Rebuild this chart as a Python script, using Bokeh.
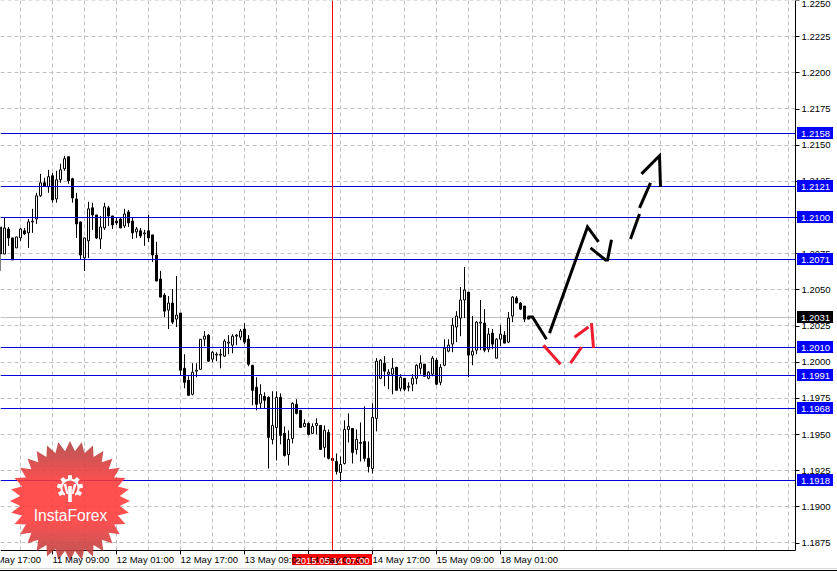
import math
from bokeh.embed import file_html
from bokeh.resources import INLINE
from bokeh.plotting import figure
from bokeh.core.properties import value
from bokeh.models import (ColumnDataSource, FixedTicker, Label, LabelSet, LinearAxis,
                          PolyAnnotation, PrintfTickFormatter, Range1d)

opens = [1.20935,1.20748,1.20921,1.20859,1.20790,1.20859,1.20908,1.20894,1.20970,1.20990,1.21150,1.21240,1.21212,1.21289,1.21129,1.21261,1.21337,1.21420,1.21268,1.21129,1.20970,1.20721,1.20839,1.21067,1.21018,1.20852,1.20928,1.21067,1.21011,1.20976,1.20990,1.20942,1.21039,1.20976,1.20901,1.20908,1.20887,1.20908,1.20880,1.20741,1.20575,1.20464,1.20360,1.20409,1.20298,1.20340,1.19958,1.19875,1.19778,1.19938,1.19951,1.20159,1.20187,1.20021,1.20049,1.20049,1.20042,1.20132,1.20118,1.20180,1.20173,1.20229,1.20159,1.19979,1.19827,1.19716,1.19764,1.19757,1.19466,1.19549,1.19757,1.19508,1.19362,1.19473,1.19709,1.19667,1.19556,1.19577,1.19508,1.19563,1.19563,1.19411,1.19515,1.19335,1.19314,1.19238,1.19300,1.19535,1.19542,1.19397,1.19439,1.19452,1.19335,1.19265,1.19612,1.19889,1.19993,1.19917,1.19917,1.19965,1.19820,1.19889,1.19827,1.19848,1.19889,1.19958,1.19986,1.19889,1.19917,1.20014,1.19861,1.19979,1.20076,1.20125,1.20243,1.20305,1.20430,1.20485,1.20049,1.20083,1.20270,1.20270,1.20090,1.20201,1.20028,1.20159,1.20187,1.20139,1.20319,1.20444,1.20409,1.20388,1.20312]
highs = [1.20935,1.20997,1.20935,1.20859,1.20866,1.20928,1.20928,1.20990,1.21060,1.21171,1.21302,1.21275,1.21330,1.21309,1.21323,1.21372,1.21427,1.21420,1.21275,1.21171,1.20970,1.20859,1.21109,1.21102,1.21018,1.21011,1.21102,1.21081,1.21011,1.20997,1.20997,1.21060,1.21053,1.20997,1.20935,1.20928,1.20915,1.21018,1.20880,1.20832,1.20631,1.20478,1.20457,1.20506,1.20596,1.20340,1.20055,1.19903,1.19993,1.19993,1.20159,1.20215,1.20194,1.20076,1.20069,1.20090,1.20159,1.20187,1.20194,1.20194,1.20229,1.20270,1.20187,1.19979,1.19896,1.19848,1.19792,1.19764,1.19799,1.19799,1.19785,1.19556,1.19529,1.19723,1.19744,1.19667,1.19605,1.19584,1.19577,1.19612,1.19563,1.19563,1.19535,1.19376,1.19369,1.19348,1.19598,1.19646,1.19542,1.19535,1.19584,1.19695,1.19452,1.19716,1.20028,1.20021,1.20042,1.19951,1.20028,1.19965,1.19917,1.19889,1.19861,1.19917,1.19986,1.20049,1.19986,1.19938,1.20042,1.20028,1.19986,1.20159,1.20159,1.20305,1.20353,1.20520,1.20658,1.20485,1.20319,1.20284,1.20430,1.20367,1.20236,1.20229,1.20166,1.20256,1.20215,1.20347,1.20457,1.20457,1.20416,1.20388,1.20312]
lows = [1.20631,1.20748,1.20804,1.20707,1.20790,1.20839,1.20880,1.20790,1.20894,1.20956,1.21143,1.21219,1.21171,1.21102,1.21102,1.21240,1.21323,1.21233,1.21102,1.20859,1.20707,1.20631,1.20721,1.20915,1.20852,1.20783,1.20915,1.20942,1.20921,1.20949,1.20928,1.20928,1.20935,1.20852,1.20859,1.20859,1.20804,1.20832,1.20693,1.20561,1.20450,1.20312,1.20229,1.20263,1.20243,1.19910,1.19820,1.19771,1.19771,1.19896,1.19951,1.20111,1.20007,1.20000,1.20007,1.19958,1.20035,1.20055,1.20062,1.20118,1.20152,1.20125,1.19972,1.19702,1.19667,1.19681,1.19681,1.19265,1.19432,1.19321,1.19432,1.19348,1.19286,1.19439,1.19639,1.19549,1.19549,1.19494,1.19508,1.19501,1.19397,1.19341,1.19328,1.19314,1.19224,1.19175,1.19293,1.19445,1.19300,1.19362,1.19314,1.19314,1.19238,1.19231,1.19522,1.19882,1.19834,1.19813,1.19778,1.19806,1.19799,1.19799,1.19799,1.19799,1.19848,1.19917,1.19903,1.19882,1.19903,1.19841,1.19841,1.19972,1.20069,1.20069,1.20139,1.20180,1.20305,1.19896,1.19979,1.20055,1.20083,1.20069,1.20069,1.20090,1.20028,1.20111,1.20132,1.20132,1.20277,1.20409,1.20360,1.20277,1.20298]
closes = [1.20748,1.20928,1.20859,1.20707,1.20866,1.20921,1.20887,1.20970,1.20976,1.21150,1.21240,1.21219,1.21282,1.21122,1.21261,1.21330,1.21407,1.21254,1.21136,1.20956,1.20741,1.20859,1.21060,1.21018,1.20859,1.20935,1.21074,1.21011,1.20949,1.20963,1.20928,1.21025,1.20963,1.20894,1.20921,1.20873,1.20894,1.20859,1.20741,1.20561,1.20450,1.20353,1.20409,1.20277,1.20326,1.19945,1.19861,1.19771,1.19931,1.19945,1.20159,1.20180,1.20007,1.20069,1.20055,1.20055,1.20146,1.20139,1.20180,1.20187,1.20215,1.20139,1.19986,1.19806,1.19709,1.19778,1.19737,1.19480,1.19563,1.19757,1.19494,1.19355,1.19466,1.19716,1.19646,1.19549,1.19577,1.19501,1.19556,1.19577,1.19397,1.19529,1.19335,1.19321,1.19245,1.19293,1.19535,1.19556,1.19376,1.19466,1.19445,1.19335,1.19279,1.19619,1.20007,1.20014,1.19938,1.19931,1.19958,1.19806,1.19896,1.19813,1.19834,1.19889,1.19979,1.19993,1.19903,1.19931,1.20028,1.19848,1.19965,1.20097,1.20118,1.20256,1.20319,1.20430,1.20499,1.20049,1.20076,1.20277,1.20277,1.20083,1.20194,1.20125,1.20159,1.20194,1.20132,1.20305,1.20450,1.20409,1.20367,1.20298,1.20298]

level_prices = [1.2158, 1.2121, 1.2100, 1.2071, 1.2010, 1.1991, 1.1968, 1.1918]
level_labels = ["1.2158", "1.2121", "1.2100", "1.2071", "1.2010", "1.1991", "1.1968", "1.1918"]
bid_price = 1.2031
bid_label = "1.2031"
price_ticks = [1.2250, 1.2225, 1.2200, 1.2175, 1.2150, 1.2125, 1.2100, 1.2075, 1.2050, 1.2025,
               1.2000, 1.1975, 1.1950, 1.1925, 1.1900, 1.1875]
time_ticks = [-4.25, 13, 29, 45, 61, 77, 93, 109, 125]
time_labels = ["10 May 17:00", "11 May 09:00", "12 May 01:00", "12 May 17:00", "13 May 09:00",
               "14 May 01:00", "14 May 17:00", "15 May 09:00", "18 May 01:00"]
cross_bar = 83
cross_label = "2015.05.14 07:00"

black_paths = [
    ([131.75, 133.0, 136.5], [1.20312, 1.20312, 1.20159]),
    ([137.25, 146.75, 149.5], [1.20201, 1.20935, 1.20832]),
    ([147.5, 151.25, 151.75, 152.75], [1.20790, 1.20707, 1.20707, 1.20846]),
    ([157.5, 159.75], [1.20852, 1.21025]),
    ([159.75, 162.5], [1.21067, 1.21240]),
    ([160.25, 164.75, 165.0], [1.21302, 1.21427, 1.21212]),
]
red_paths = [
    ([135.75, 140.0], [1.20118, 1.19986]),
    ([142.5, 145.25], [1.19993, 1.20104]),
    ([143.5, 147.0], [1.20173, 1.20243]),
    ([147.75, 148.25], [1.20270, 1.20097]),
]

W, H = 837, 572
FRAME_W, FRAME_H = 795, 550
SCALE = 14467.0


def X(px):
    return px / 4.0


def Y(py):
    return 1.2225 - (py - 36.2) / SCALE


def row(price):
    return round(36.0 + (1.2225 - price) * SCALE)


def snap(price):
    return Y(row(price))


FONT = "Liberation Sans"
FS = "9.5px"
LINE_BLUE = "#0000dd"

p = figure(width=W, height=H, output_backend="svg", toolbar_location=None,
           x_range=Range1d(X(0), X(W)), y_range=Range1d(Y(H), Y(0)),
           min_border_left=0, min_border_top=0, min_border_right=0, min_border_bottom=0,
           x_axis_location=None, y_axis_location=None,
           background_fill_color="white", border_fill_color="white")
p.outline_line_color = None
p.xgrid.visible = False
p.ygrid.visible = False

bx = LinearAxis(ticker=FixedTicker(ticks=time_ticks), fixed_location=Y(FRAME_H),
                bounds=(X(0), X(FRAME_W)), major_tick_in=0, major_tick_out=4,
                minor_tick_in=0, minor_tick_out=0, axis_line_color="black",
                major_tick_line_color="black", major_label_text_color=None,
                major_label_text_font_size="1px")
by = LinearAxis(ticker=FixedTicker(ticks=price_ticks), fixed_location=X(FRAME_W),
                bounds=(Y(FRAME_H), Y(0)), major_tick_in=0, major_tick_out=4,
                minor_tick_in=0, minor_tick_out=0, axis_line_color="black",
                major_tick_line_color="black", major_label_text_color="black",
                major_label_text_font=FONT, major_label_text_font_size=FS,
                major_label_standoff=2, formatter=PrintfTickFormatter(format="%.4f"))
p.add_layout(bx, "below")
p.add_layout(by, "right")

# dashed grid
grid_x_ticks = [5 + 8 * k for k in range(25)]
GRID = dict(line_color="#c0c0c0", line_dash="4 3", line_width=1, level="underlay")
p.segment(grid_x_ticks, [Y(0)] * len(grid_x_ticks), grid_x_ticks, [Y(FRAME_H)] * len(grid_x_ticks), **GRID)
grid_rows = [snap(t) for t in price_ticks]
p.segment([X(0)] * len(grid_rows), grid_rows, [X(FRAME_W)] * len(grid_rows), grid_rows, **GRID)

# bid line
p.segment([X(0)], [snap(bid_price)], [X(FRAME_W)], [snap(bid_price)], line_color="#c0c0c0", line_width=1)

# candles
n = len(opens)
bars = list(range(n))
p.segment(bars, highs, bars, lows, line_color="black", line_width=1)
src = ColumnDataSource(dict(
    x=bars,
    top=[max(o, c) for o, c in zip(opens, closes)],
    bottom=[min(o, c) for o, c in zip(opens, closes)],
    fill=["white" if c >= o else "black" for o, c in zip(opens, closes)],
))
p.vbar(x="x", top="top", bottom="bottom", width=0.5, fill_color="fill", line_color="black",
       line_width=1, source=src)

# levels and crosshair
for lp in level_prices:
    p.segment([X(0)], [snap(lp)], [X(FRAME_W)], [snap(lp)], line_color=LINE_BLUE, line_width=1)
p.segment([cross_bar], [Y(0)], [cross_bar], [Y(FRAME_H)], line_color="#ff0000", line_width=1)

for xs, ys in black_paths:
    p.line(xs, ys, line_color="black", line_width=3, line_join="miter")
for xs, ys in red_paths:
    p.line(xs, ys, line_color="#ee1c2e", line_width=3)

# logo: a starburst with a vertical gradient made from thin bands
CX, CY, RO, RI, TEETH = 70.0, 501.0, 60.0, 50.0, 32
star = []
for k in range(TEETH * 2):
    a = math.pi * k / TEETH
    r = RO if k % 2 == 0 else RI
    star.append((CX + r * math.sin(a), CY - r * math.cos(a)))


def clip_y(poly, y0, keep_below):
    out = []
    m = len(poly)
    for i in range(m):
        a, b = poly[i], poly[(i + 1) % m]
        ina = (a[1] >= y0) if keep_below else (a[1] <= y0)
        inb = (b[1] >= y0) if keep_below else (b[1] <= y0)
        if ina:
            out.append(a)
        if ina != inb:
            t = (y0 - a[1]) / (b[1] - a[1])
            out.append((a[0] + t * (b[0] - a[0]), y0))
    return out


for band in range(441, 561, 2):
    piece = clip_y(star, band, True)
    if piece:
        piece = clip_y(piece, band + 2, False)
    if not piece:
        continue
    t = min(1.0, max(0.0, (abs(band + 1 - CY) - 18) / 38.0))
    r = int(255 + (183 - 255) * t)
    g = int(56 + (62 - 56) * t)
    color = "#%02x%02x%02x" % (r, g, g)
    p.add_layout(PolyAnnotation(xs=[X(q[0] - 0.5) for q in piece], ys=[Y(q[1] - 0.5) for q in piece],
                                fill_color=color, fill_alpha=0.88, line_color=None,
                                level="annotation"))

# gear icon
GX, GY = 70.0, 488.0
gear = []
for k in range(9):
    a0 = 2 * math.pi * k / 9
    for da, r in ((-0.22, 9.5), (-0.15, 13.0), (0.15, 13.0), (0.22, 9.5)):
        gear.append((GX + r * math.sin(a0 + da), GY - r * math.cos(a0 + da)))


def blob(points, color):
    p.patch([X(q[0] - 0.5) for q in points], [Y(q[1] - 0.5) for q in points], fill_color=color,
            line_color=None, level="overlay")


blob(gear, "white")
blob([(GX + 7.5 * math.sin(2 * math.pi * k / 30), GY - 7.5 * math.cos(2 * math.pi * k / 30))
      for k in range(30)], "#fd5454")
blob([(GX - 4, GY + 4), (GX + 4, GY + 4), (GX + 9, GY + 16), (GX - 9, GY + 16)], "#fd5050")
blob([(GX - 1.8, GY - 2), (GX + 1.8, GY - 2), (GX + 1.8, GY + 14), (GX - 1.8, GY + 14)], "white")
for s in (-1, 1):
    blob([(GX + s * 6.5, GY - 4), (GX + s * 3.8, GY - 4), (GX + s * 1.5, GY + 6), (GX + s * 3.5, GY + 6)], "white")
p.add_layout(Label(x=X(70), y=Y(515), text="InstaForex", text_color="white", text_font=FONT,
                   text_font_size="15.6px", text_align="center", text_baseline="middle",
                   level="overlay"))

# time labels
label_src = ColumnDataSource(dict(x=time_ticks, y=[Y(559)] * len(time_ticks), text=time_labels))
p.add_layout(LabelSet(x="x", y="y", text="text", source=label_src,
                      text_font=value(FONT), text_font_size=FS, text_color="black",
                      text_align="left", text_baseline="middle", level="overlay"))

# tag backgrounds, then their texts


def tag(left, right, top_row, bottom_row, color, text, center_row):
    p.quad(left=[X(left - 0.5)], right=[X(right - 0.5)], top=[Y(top_row - 0.5)], bottom=[Y(bottom_row - 0.5)],
           fill_color=color, line_color=None, level="overlay")
    p.add_layout(Label(x=X((left + right) / 2), y=Y(center_row), text=text, text_color="white",
                       text_font=FONT, text_font_size=FS, text_align="center",
                       text_baseline="middle", level="overlay"))


tag(292, 372, 554, 565, "#ff0000", cross_label, 559.5)
for lp, ll in zip(level_prices, level_labels):
    rw = row(lp)
    tag(797, 833, rw - 6, rw + 6, "#0000ff", ll, rw)
rw = row(bid_price)
tag(797, 833, rw - 6, rw + 6, "#000000", bid_label, rw)

# window frame at the foot of the picture
p.quad(left=[X(-0.5)], right=[X(W)], top=[Y(567.5)], bottom=[Y(568.5)], fill_color="#d8d8d8",
       line_color=None, level="overlay")
p.quad(left=[X(-0.5)], right=[X(W)], top=[Y(569.5)], bottom=[Y(570.5)], fill_color="black",
       line_color=None, level="overlay")

open("out.html", "w").write(file_html(p, INLINE))
